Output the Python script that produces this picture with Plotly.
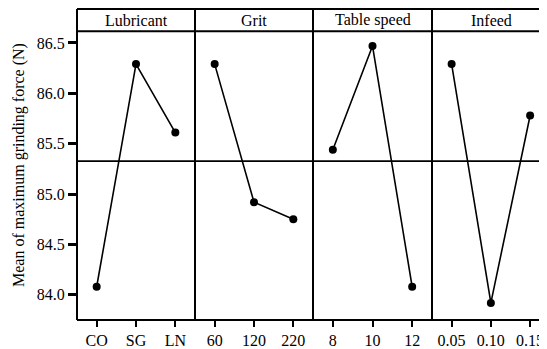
import plotly.graph_objects as go

factors = ["Lubricant", "Grit", "Table speed", "Infeed"]
levels = [["CO", "SG", "LN"], ["60", "120", "220"], ["8", "10", "12"], ["0.05", "0.10", "0.15"]]
lubricant = [84.08, 86.29, 85.61]
grit = [86.29, 84.92, 84.75]
table_speed = [85.44, 86.47, 84.08]
infeed = [86.29, 83.92, 85.78]
series = [lubricant, grit, table_speed, infeed]
y_ticks = [84.0, 84.5, 85.0, 85.5, 86.0, 86.5]

all_vals = [v for s in series for v in s]
grand_mean = sum(all_vals) / len(all_vals)

# page body has an 8px margin, so the figure is laid out in offset coordinates
OFF = 8
W, H = 547 - OFF, 349 - OFF
L, R, T, B = 77 - OFF, 0, 9 - OFF, 349 - 322
plot_w = W - L - R
plot_h = H - T - B
header_px = 22.5
y_top = 1 - header_px / plot_h

bounds_px = [77, 195, 313, 432, 547]
bounds = [(b - 77) / plot_w for b in bounds_px]
ranges = [[-0.5, 2.5], [-0.5, 2.5], [-0.5, 2.5], [-0.5, 2.43]]

FONT = "Liberation Serif"

fig = go.Figure()
layout = dict(
    width=W, height=H,
    margin=dict(l=L, r=R, t=T, b=B),
    paper_bgcolor="white", plot_bgcolor="white",
    showlegend=False,
    font=dict(family=FONT, size=16, color="black"),
)

for i in range(4):
    xname = "x" if i == 0 else f"x{i+1}"
    axkey = "xaxis" if i == 0 else f"xaxis{i+1}"
    fig.add_trace(go.Scatter(
        x=[0, 1, 2], y=series[i], xaxis=xname, yaxis="y",
        mode="lines+markers",
        line=dict(color="black", width=1.6),
        marker=dict(color="black", size=8),
        cliponaxis=False,
    ))
    layout[axkey] = dict(
        domain=[bounds[i], bounds[i + 1]],
        range=ranges[i],
        anchor="y",
        tickmode="array",
        tickvals=[0, 1, 2],
        ticktext=levels[i],
        ticks="outside", ticklen=6, tickwidth=1.5, tickcolor="black",
        showgrid=False, zeroline=False, showline=False,
        tickfont=dict(family=FONT, size=16, color="black"),
        fixedrange=True,
    )

layout["yaxis"] = dict(
    domain=[0, y_top],
    range=[83.75, 86.615],
    anchor="x",
    tickmode="array",
    tickvals=y_ticks,
    ticktext=[f"{v:.1f}" for v in y_ticks],
    ticks="outside", ticklen=8, tickwidth=2.5, tickcolor="black",
    showgrid=False, zeroline=False, showline=False,
    tickfont=dict(family=FONT, size=16, color="black"),
)

shapes = []
lw = 2
shapes.append(dict(type="line", xref="paper", yref="y", x0=0, x1=1,
                   y0=grand_mean, y1=grand_mean, line=dict(color="black", width=1.8), layer="below"))
shapes.append(dict(type="line", xref="paper", yref="paper", x0=0, x1=0, y0=0, y1=1,
                   line=dict(color="black", width=lw)))
shapes.append(dict(type="line", xref="paper", yref="paper", x0=0, x1=1.01, y0=1, y1=1,
                   line=dict(color="black", width=lw)))
shapes.append(dict(type="line", xref="paper", yref="paper", x0=0, x1=1.01, y0=0, y1=0,
                   line=dict(color="black", width=lw)))
shapes.append(dict(type="line", xref="paper", yref="paper", x0=0, x1=1.01, y0=y_top, y1=y_top,
                   line=dict(color="black", width=lw)))
for b in bounds[1:4]:
    shapes.append(dict(type="line", xref="paper", yref="paper", x0=b, x1=b, y0=0, y1=1,
                       line=dict(color="black", width=lw)))
layout["shapes"] = shapes

annotations = []
for i, f in enumerate(factors):
    if i < 3:
        cx = (bounds[i] + bounds[i + 1]) / 2
    else:
        cx = bounds[3] + 59 / plot_w
    annotations.append(dict(text=f, xref="paper", yref="paper", x=cx, y=(1 + y_top) / 2,
                            xanchor="center", yanchor="middle", showarrow=False,
                            font=dict(family=FONT, size=16, color="black")))
annotations.append(dict(text="Mean of maximum grinding force (N)", xref="paper", yref="paper",
                        x=(19 - 77) / plot_w, y=(322 - 166) / plot_h, textangle=-90,
                        xanchor="center", yanchor="middle", showarrow=False,
                        font=dict(family=FONT, size=16, color="black")))
layout["annotations"] = annotations

fig.update_layout(**layout)
fig.write_html("out.html")
